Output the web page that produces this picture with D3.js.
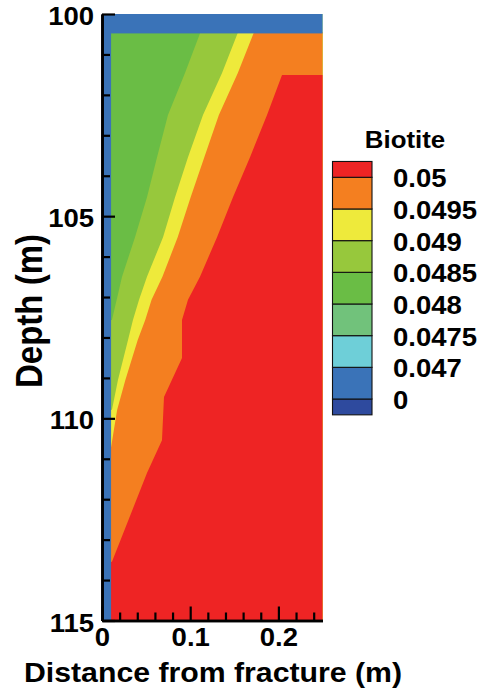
<!DOCTYPE html>
<html>
<head>
<meta charset="utf-8">
<script src="https://cdn.jsdelivr.net/npm/d3@7"></script>
<style>
  html, body { margin: 0; padding: 0; background: #fff; }
  svg { display: block; font-family: "Liberation Sans", Arial, Helvetica, sans-serif; font-weight: bold; }
</style>
</head>
<body>
<svg id="chart" width="485" height="689"></svg>
<script>
// Contour levels of biotite volume fraction and the colour of each band
const levels = [0, 0.047, 0.0475, 0.048, 0.0485, 0.049, 0.0495, 0.05];
const levelLabels = ["0", "0.047", "0.0475", "0.048", "0.0485", "0.049", "0.0495", "0.05"];
const bandColors = ["#2e4a9e", "#3a73b8", "#6ecfd8", "#71c27b", "#6abd45", "#97c83c", "#eeea3b", "#f47f20", "#ee2424"];

// Axis ticks
const xMajorTicks = [0, 0.1, 0.2];
const xTickLabels = ["0", "0.1", "0.2"];
const xMinorTicks = [0.02, 0.04, 0.06, 0.08, 0.12, 0.14, 0.16, 0.18, 0.22, 0.24];
const yMajorTicks = [100, 105, 110, 115];
const yTickLabels = ["100", "105", "110", "115"];
const yMinorTicks = [101, 102, 103, 104, 106, 107, 108, 109, 111, 112, 113, 114];

// Background biotite level of the matrix and the altered zones
const matrixValue = 0.0482;          // between 0.048 and 0.0485
const alteredValue = 0.0465;         // below 0.047 (fracture wall and top boundary)
const fractureWall = 0.0103;         // m, width of altered strip at the fracture
const topBoundaryDepth = 100.48;     // m, base of altered layer at the top

// Contour boundaries [distance (m), depth (m)]; everything to the right is above the level
const contour0485 = [
  [0.1116, 100.45], [0.0941, 101.46], [0.0748, 102.50], [0.0624, 103.54], [0.0510, 104.53],
  [0.0374, 105.52], [0.0227, 106.50], [0.0113, 107.57], [0, 107.6], [0, 115]
];
const contour049 = [
  [0.1542, 100.45], [0.1361, 101.46], [0.1145, 102.50], [0.0975, 103.54], [0.0828, 104.53],
  [0.0692, 105.52], [0.0510, 106.50], [0.0420, 107.07], [0.0351, 107.57], [0.0295, 108.06],
  [0.0181, 109.05], [0.0113, 109.79], [0, 109.8], [0, 115]
];
const contour0495 = [
  [0.1723, 100.45], [0.1540, 101.46], [0.1325, 102.50], [0.1160, 103.54], [0.1005, 104.53],
  [0.0858, 105.52], [0.0685, 106.50], [0.0562, 107.07], [0.0490, 107.57], [0.0405, 108.06],
  [0.0265, 109.05], [0.0172, 109.79], [0.0102, 110.73], [0, 110.75], [0, 115]
];
const contour05 = [
  [0.2041, 101.51], [0.1871, 102.50], [0.1678, 103.54], [0.1485, 104.53], [0.1304, 105.52],
  [0.1111, 106.50], [0.0975, 107.07], [0.0907, 107.57], [0.0907, 108.51], [0.0703, 109.47],
  [0.0680, 110.54], [0.0510, 111.35], [0.0113, 113.55], [0, 113.6], [0, 115]
];
// Representative value of the zone to the right of each contour
const contourZones = [
  { edge: contour0485, value: 0.0487 },
  { edge: contour049, value: 0.0492 },
  { edge: contour0495, value: 0.0497 },
  { edge: contour05, value: 0.0502 }
];

const svg = d3.select("#chart");
const xDomain = [0, 0.25];
const yDomain = [100, 115];
const x = d3.scaleLinear().domain(xDomain).range([102, 322.5]);
const y = d3.scaleLinear().domain(yDomain).range([14, 620.5]);
const color = d3.scaleThreshold().domain(levels).range(bandColors);

// Horizontally widened glyphs
function widen(sel, k) {
  sel.each(function () {
    const t = d3.select(this);
    const tx = +t.attr("x") || 0, ty = +t.attr("y") || 0;
    t.attr("x", null).attr("y", null)
     .attr("transform", `translate(${tx},${ty}) scale(${k},1)`);
  });
}

// ---- contour field ----
const field = svg.append("g");
field.append("rect")
  .attr("x", x(xDomain[0])).attr("y", y(yDomain[0]))
  .attr("width", x(xDomain[1]) - x(xDomain[0]))
  .attr("height", y(yDomain[1]) - y(yDomain[0]))
  .attr("fill", color(matrixValue));

const zoneArea = d3.area()
  .y(d => y(d[1]))
  .x0(d => x(d[0]))
  .x1(x(xDomain[1]));

field.selectAll("path.zone")
  .data(contourZones)
  .join("path")
  .attr("class", "zone")
  .attr("d", d => zoneArea(d.edge))
  .attr("fill", d => color(d.value));

// altered layer at the top and strip along the fracture wall
field.append("rect")
  .attr("x", x(xDomain[0])).attr("y", y(yDomain[0]))
  .attr("width", x(xDomain[1]) - x(xDomain[0]))
  .attr("height", y(topBoundaryDepth) - y(yDomain[0]))
  .attr("fill", color(alteredValue));
field.append("rect")
  .attr("x", x(xDomain[0])).attr("y", y(yDomain[0]))
  .attr("width", x(fractureWall) - x(xDomain[0]))
  .attr("height", y(yDomain[1]) - y(yDomain[0]))
  .attr("fill", color(alteredValue));

// ---- axes ----
const fontSize = 25;
const yMinor = svg.append("g").attr("transform", `translate(${x(0)},0)`)
  .call(d3.axisLeft(y).tickValues(yMinorTicks).tickSize(-8).tickSizeOuter(0).tickFormat(""));
const yMajor = svg.append("g").attr("transform", `translate(${x(0)},0)`)
  .call(d3.axisLeft(y).tickValues(yMajorTicks).tickSize(-13).tickSizeOuter(0).tickPadding(8)
    .tickFormat((d, i) => yTickLabels[i]));
const xMinor = svg.append("g").attr("transform", `translate(0,${y(115)})`)
  .call(d3.axisBottom(x).tickValues(xMinorTicks).tickSize(-8).tickSizeOuter(0).tickFormat(""));
const xMajor = svg.append("g").attr("transform", `translate(0,${y(115)})`)
  .call(d3.axisBottom(x).tickValues(xMajorTicks).tickSize(-14).tickSizeOuter(0).tickPadding(8)
    .tickFormat((d, i) => xTickLabels[i]));

[yMinor, yMajor, xMinor, xMajor].forEach(g => {
  g.selectAll(".domain").attr("stroke", "#000").attr("stroke-width", 2.6);
  g.selectAll(".tick line").attr("stroke", "#000").attr("stroke-width", 2.2);
  g.selectAll("text").attr("font-size", fontSize).attr("font-family", null).attr("fill", "#000");
});
yMajor.selectAll("text").attr("dy", "0.42em");
xMajor.selectAll("text").attr("dy", "0.71em");
widen(yMajor.selectAll("text"), 1.1);
widen(xMajor.selectAll("text"), 1.1);

// axis titles
svg.append("text")
  .attr("transform", `translate(213,682) scale(1.1,1)`)
  .attr("text-anchor", "middle")
  .attr("font-size", 27.5)
  .text("Distance from fracture (m)");
svg.append("text")
  .attr("transform", `translate(42,311) rotate(-90) scale(1,1.1)`)
  .attr("text-anchor", "middle")
  .attr("font-size", 33)
  .text("Depth (m)");

// ---- legend ----
const legendTop = 177.3, legendBottom = 399;
const ly = d3.scaleLinear().domain([levels.length - 1, 0]).range([legendTop, legendBottom]);
const step = ly(levels.length - 2) - ly(levels.length - 1);
const legend = svg.append("g");
const boxes = bandColors.map((c, i) => {
  // band i lies between levels[i-1] and levels[i]
  const top = i === bandColors.length - 1 ? ly(i - 1) - step / 2 : ly(i);
  const bottom = i === 0 ? ly(0) + step / 2 : ly(i - 1);
  return { color: c, top, bottom };
});
legend.selectAll("rect")
  .data(boxes)
  .join("rect")
  .attr("x", 332.5).attr("width", 39.5)
  .attr("y", d => d.top).attr("height", d => d.bottom - d.top)
  .attr("fill", d => d.color)
  .attr("stroke", "#111").attr("stroke-width", 1.1);
const legendText = legend.selectAll("text.lvl")
  .data(levelLabels)
  .join("text")
  .attr("class", "lvl")
  .attr("x", 393)
  .attr("y", (d, i) => ly(i) + 10)
  .attr("font-size", fontSize)
  .text(d => d);
widen(legendText, 1.1);
legend.append("text")
  .attr("transform", `translate(405,148) scale(1.1,1)`)
  .attr("text-anchor", "middle")
  .attr("font-size", 23.5)
  .text("Biotite");
</script>
</body>
</html>
